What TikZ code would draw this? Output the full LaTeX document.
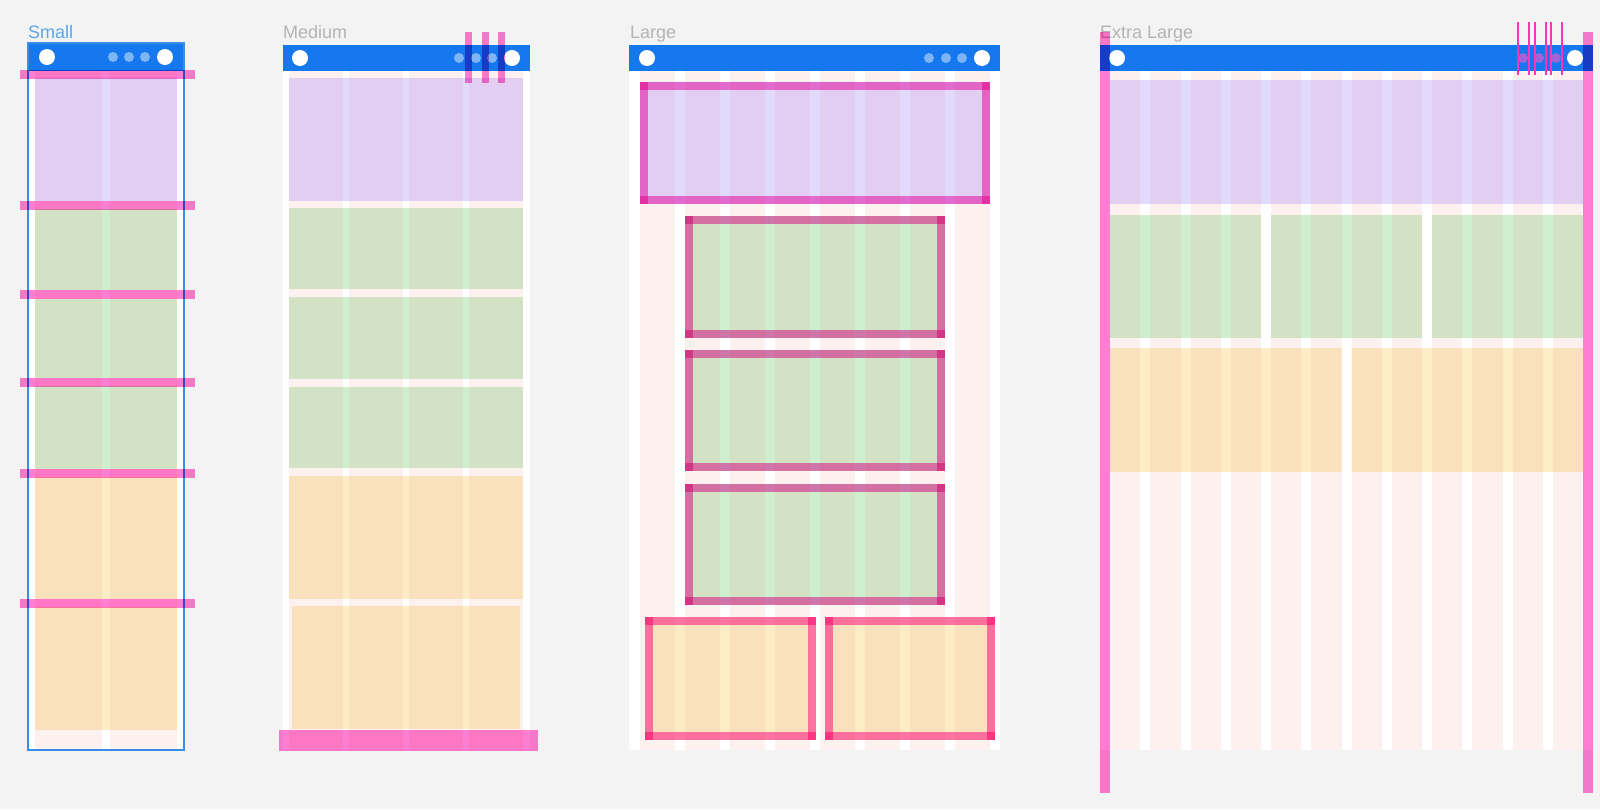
\documentclass[tikz,border=0pt]{standalone}
\usepackage{fontspec}
\setmainfont{Liberation Sans}
\definecolor{canvas}{RGB}{243,243,243}
\definecolor{hdrblue}{RGB}{22,120,238}
\definecolor{selblue}{RGB}{58,142,230}
\definecolor{colpink}{RGB}{253,241,240}
\definecolor{purpfill}{RGB}{226,206,240}
\definecolor{purptint}{RGB}{226,218,252}
\definecolor{grnfill}{RGB}{211,226,196}
\definecolor{grntint}{RGB}{206,238,206}
\definecolor{orngfill}{RGB}{250,225,190}
\definecolor{orngtint}{RGB}{253,236,198}
\definecolor{guidepink}{RGB}{255,126,210}
\definecolor{guideline}{RGB}{255,50,185}
\definecolor{xldot}{RGB}{160,100,215}
\definecolor{lblgray}{RGB}{180,180,180}
\definecolor{lblblue}{RGB}{95,165,232}
\newcommand{\gutters}{}
\newcommand{\gw}{10}
% block with its gutter stripes
\newcommand{\blk}[6]{%
  \begin{scope}
    \clip (#1,#2) rectangle (#3,#4);
    \fill[#5] (#1,#2) rectangle (#3,#4);
    \foreach \g in \gutters {\fill[#6] (\g,#2) rectangle ({\g+\gw},#4);}
  \end{scope}}

\begin{document}
\begin{tikzpicture}[x=1pt,y=-1pt,
    lbl/.style={anchor=base west,inner sep=0pt,font=\fontsize{18}{20}\selectfont},
    hdr/.style={fill=hdrblue},
    bigdot/.style={fill=white},
    smalldot/.style={fill=white,fill opacity=0.45},
    pinkbar/.style={fill=guidepink},
    thinguide/.style={draw=guideline,line width=1.2pt}]
  \useasboundingbox (0,0) rectangle (1600,809);
  \fill[canvas] (0,0) rectangle (1600,809);

  % Small
  \node[lbl,text=lblblue] (lblS) at (28,38) {Small};
  \fill[white] (28,43) rectangle (184,750);
  \fill[colpink] (35,71) rectangle (177,750);
  \fill[white] (102,71) rectangle (110,750);
  \renewcommand{\gutters}{102}\renewcommand{\gw}{8}
  \blk{35}{78}{177}{201}{purpfill}{purptint}
  \blk{35}{209}{177}{290}{grnfill}{grntint}
  \blk{35}{299}{177}{378}{grnfill}{grntint}
  \blk{35}{386}{177}{469}{grnfill}{grntint}
  \blk{35}{477}{177}{599}{orngfill}{orngtint}
  \blk{35}{607}{177}{730}{orngfill}{orngtint}
  \fill[hdr] (27,42) rectangle (185,71);
  \fill[bigdot] (47,57) circle[radius=8pt] (165,57) circle[radius=8pt];
  \foreach \d in {113,129,145} \fill[smalldot] (\d,57) circle[radius=5pt];
  \draw[selblue,line width=2.5pt] (28,43) rectangle (184,750);

  % Medium
  \node[lbl,text=lblgray] (lblM) at (283,38) {Medium};
  \fill[white] (283,71) rectangle (530,750);
  \fill[colpink] (289,71) rectangle (523,750);
  \renewcommand{\gutters}{343,403,463}\renewcommand{\gw}{6}
  \foreach \g in \gutters \fill[white] (\g,71) rectangle ({\g+\gw},750);
  \blk{289}{78}{523}{201}{purpfill}{purptint}
  \blk{289}{208}{523}{289}{grnfill}{grntint}
  \blk{289}{297}{523}{379}{grnfill}{grntint}
  \blk{289}{387}{523}{468}{grnfill}{grntint}
  \blk{289}{476}{523}{599}{orngfill}{orngtint}
  \blk{292}{606}{520}{729}{orngfill}{orngtint}
  \fill[hdr] (283,45) rectangle (530,71);
  \fill[bigdot] (300,58) circle[radius=8pt] (512,58) circle[radius=8pt];
  \foreach \d in {459,476,492} \fill[smalldot] (\d,58) circle[radius=5pt];

  % Large
  \node[lbl,text=lblgray] (lblL) at (630,38) {Large};
  \fill[white] (629,71) rectangle (1000,750);
  \fill[colpink] (640,71) rectangle (990,750);
  \renewcommand{\gutters}{675,720,765,810,855,900,945}\renewcommand{\gw}{10}
  \foreach \g in \gutters \fill[white] (\g,71) rectangle ({\g+\gw},750);
  \blk{640}{82}{990}{204}{purpfill}{purptint}
  \blk{685}{216}{945}{338}{grnfill}{grntint}
  \blk{685}{350}{945}{471}{grnfill}{grntint}
  \blk{685}{484}{945}{605}{grnfill}{grntint}
  \blk{645}{617}{816}{740}{orngfill}{orngtint}
  \blk{825}{617}{995}{740}{orngfill}{orngtint}
  \fill[hdr] (629,45) rectangle (1000,71);
  \fill[bigdot] (647,58) circle[radius=8pt] (982,58) circle[radius=8pt];
  \foreach \d in {929,946,962} \fill[smalldot] (\d,58) circle[radius=5pt];

  % Extra Large
  \node[lbl,text=lblgray] (lblX) at (1100,38) {Extra Large};
  \fill[white] (1100,71) rectangle (1593,750);
  \fill[colpink] (1110,71) rectangle (1583,750);
  \renewcommand{\gutters}{1140.25,1180.5,1220.75,1261,1301.25,1341.5,1381.75,1422,1462.25,1502.5,1542.75}
  \foreach \g in \gutters \fill[white] (\g,71) rectangle ({\g+\gw},750);
  \blk{1110}{80}{1583}{204}{purpfill}{purptint}
  \blk{1110}{215}{1261}{338}{grnfill}{grntint}
  \blk{1271}{215}{1422}{338}{grnfill}{grntint}
  \blk{1432}{215}{1583}{338}{grnfill}{grntint}
  \blk{1110}{348}{1341.5}{472}{orngfill}{orngtint}
  \blk{1351.5}{348}{1583}{472}{orngfill}{orngtint}
  \fill[hdr] (1100,45) rectangle (1593,71);
  \fill[bigdot] (1117,58) circle[radius=8pt] (1575,58) circle[radius=8pt];
  \foreach \d in {1523,1539,1556} \fill[xldot] (\d,58) circle[radius=5pt];

  % guides
  \begin{scope}[blend mode=multiply]
    \foreach \c in {74.5,205,294.5,382,473,603}
      \fill[pinkbar] (20,\c-4.5) rectangle (195,\c+4.5);
    \foreach \c in {468.5,485,501}
      \fill[pinkbar] (\c-3.5,32) rectangle (\c+3.5,83);
    \fill[pinkbar] (279,730) rectangle (538,751);
    \foreach \a/\b/\c/\d in {640/82/990/204,685/216/945/338,685/350/945/471,
        685/484/945/605,645/617/816/740,825/617/995/740} {
      \fill[pinkbar] (\a,\b) rectangle (\c,\b+8);
      \fill[pinkbar] (\a,\d-8) rectangle (\c,\d);
      \fill[pinkbar] (\a,\b) rectangle (\a+8,\d);
      \fill[pinkbar] (\c-8,\b) rectangle (\c,\d);
    }
    \fill[pinkbar] (1100,32) rectangle (1110,793);
    \fill[pinkbar] (1583,32) rectangle (1593,793);
  \end{scope}
  \foreach \x in {1518,1529,1535,1546,1551,1562}
    \draw[thinguide] (\x,22) -- (\x,75);
\end{tikzpicture}
\end{document}
